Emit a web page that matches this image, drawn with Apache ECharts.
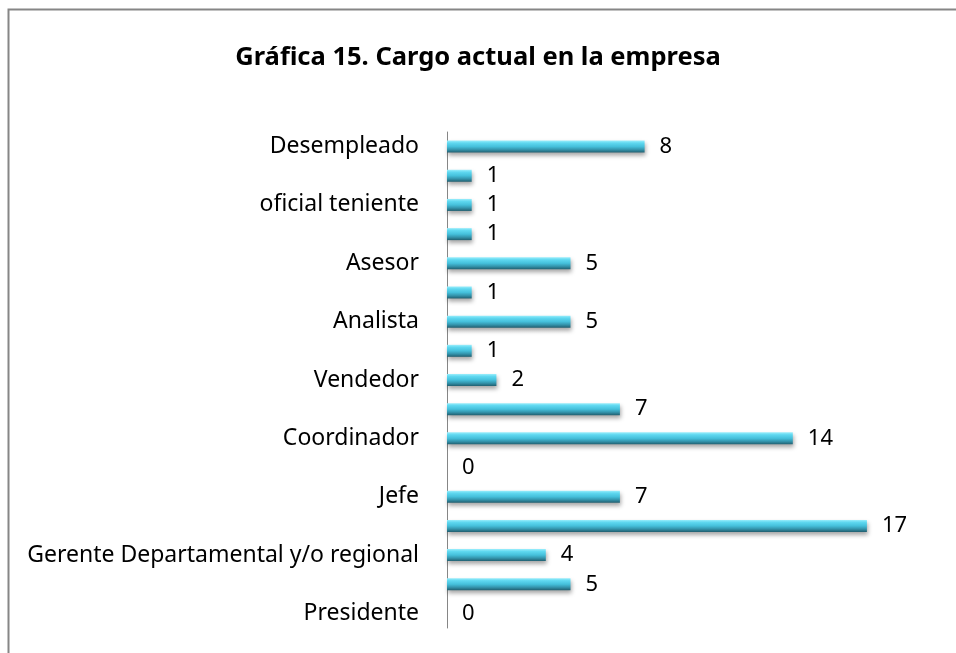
<!DOCTYPE html>
<html><head><meta charset="utf-8">
<script src="https://cdn.jsdelivr.net/npm/echarts@6/dist/echarts.min.js"></script>
<style>html,body{margin:0;padding:0;background:#fff}#c{width:956px;height:653px}</style>
</head><body><div id="c"></div>
<script>
// categories from bottom to top
const categories = ["Presidente","Vicepresidente","Gerente Departamental y/o regional","Gerente","Jefe","Director","Coordinador","Supervisor","Vendedor","Auxiliar","Analista","Técnico","Asesor","Consultor","oficial teniente","Otro","Desempleado"];
const values = [0,5,4,17,7,0,14,7,2,1,5,1,5,1,1,1,8];
const titleText = "Gráfica 15. Cargo actual en la empresa";

const chart = echarts.init(document.getElementById('c'), null, {renderer:'canvas'});
const font = "'Noto Sans', 'Open Sans', sans-serif";
chart.setOption({
  animation:false,
  backgroundColor:'#fff',
  title:{text:titleText,left:'center',top:40,textStyle:{fontFamily:font,fontWeight:'bold',fontSize:25.5,color:'#000'}},
  graphic:[{type:'rect',left:6,top:7,shape:{width:1200,height:1200},style:{fill:'none',stroke:'#868686',lineWidth:2},silent:true,z:-1}],
  grid:{left:447,top:132,width:494,height:496,containLabel:false},
  xAxis:{type:'value',min:0,max:20,show:false},
  yAxis:{type:'category',data:categories,
    axisLine:{show:true,lineStyle:{color:'#868686',width:1}},
    axisTick:{show:false},
    axisLabel:{interval:1,fontFamily:font,fontSize:23,color:'#000',margin:28}},
  series:[{type:'bar',data:values,barWidth:12,
    itemStyle:{
      color:new echarts.graphic.LinearGradient(0,0,0,1,[
        {offset:0,color:'#9beefc'},{offset:0.2,color:'#5fd8f0'},{offset:0.5,color:'#45c0db'},{offset:0.75,color:'#3495ad'},{offset:1,color:'#215f70'}]),
      shadowBlur:4,shadowOffsetY:3,shadowOffsetX:1,shadowColor:'rgba(0,0,0,0.35)'},
    label:{show:true,position:'right',distance:15,fontFamily:font,fontSize:22,color:'#000'}
  }]
});
</script></body></html>
